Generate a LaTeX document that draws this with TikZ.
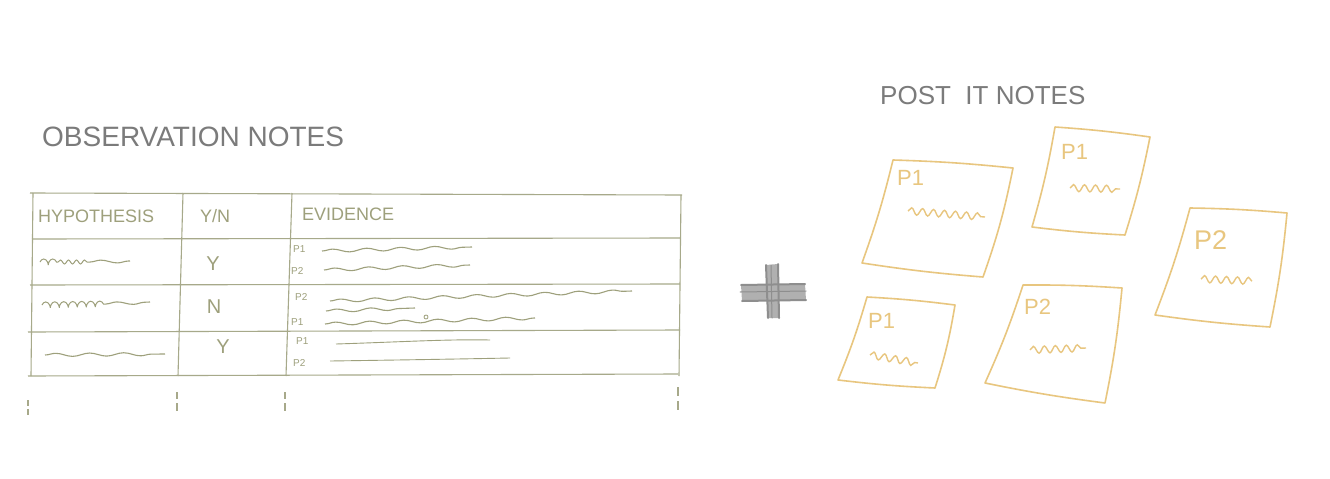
\documentclass[tikz,border=0pt]{standalone}
\usepackage{fontspec}
\setmainfont{Liberation Sans}
\usetikzlibrary{decorations.pathmorphing}
\definecolor{titlegray}{HTML}{7B7B7B}
\definecolor{tablegreen}{HTML}{A7A98A}
\definecolor{inkgreen}{HTML}{9EA07C}
\definecolor{postit}{HTML}{E8C67F}
\definecolor{plusgray}{HTML}{8E8E8E}
\tikzset{
 title/.style={text=titlegray, font=\fontsize{28}{30}\selectfont, anchor=west, inner sep=0},
 header/.style={text=inkgreen, font=\fontsize{18}{20}\selectfont, anchor=west, inner sep=0},
 cell/.style={text=inkgreen, font=\fontsize{20}{22}\selectfont, inner sep=0},
 small/.style={text=inkgreen, font=\fontsize{10}{12}\selectfont, anchor=west, inner sep=0},
 rule/.style={draw=tablegreen, line width=1.1pt},
 wavy/.style={draw=inkgreen, line width=1.1pt, decorate, decoration={snake, amplitude=1.6pt, segment length=34pt}},
 loopy/.style={draw=inkgreen, line width=1pt, decorate, decoration={coil, aspect=0.5, amplitude=3pt, segment length=9pt}},
 note/.style={draw=postit, line width=1.6pt, line join=round},
 notetext/.style={text=postit, font=\fontsize{22}{24}\selectfont, anchor=west, inner sep=0},
 scrib/.style={draw=postit, line width=1.4pt, decorate, decoration={snake, amplitude=3.5pt, segment length=11pt}},
 plusbar/.style={draw=plusgray, line width=2pt, line cap=round},
}
\begin{document}
\begin{tikzpicture}[x=1pt,y=-1pt]
\fill[white] (0,0) rectangle (1330,479);
\path[use as bounding box] (0,0) rectangle (1330,479);

% ---------- Observation notes ----------
\node[title] (obs) at (42,137) {OBSERVATION NOTES};

% table rules
\draw[rule] (30,193) -- (682,195);
\draw[rule] (32,239) -- (680,238);
\draw[rule] (30,285) -- (680,284);
\draw[rule] (28,332) -- (680,330);
\draw[rule] (28,376) -- (678,374);
\draw[rule] (33,193) -- (31,376);
\draw[rule] (183,193) -- (178,376);
\draw[rule] (292,193) -- (286,376);
\draw[rule] (681,195) -- (679,376);
% dashed continuations
\draw[rule] (28,400) -- (28,406) (28,409) -- (28,415);
\draw[rule] (177,392) -- (177,399) (177,403) -- (177,411);
\draw[rule] (285,392) -- (285,399) (285,403) -- (285,411);
\draw[rule] (678,387) -- (678,396) (678,401) -- (678,410);

% headers
\node[header] (hhyp) at (38,216) {HYPOTHESIS};
\node[header] (hyn) at (200,216) {Y/N};
\node[header] (hev) at (302,214) {EVIDENCE};

% row 1
\draw[loopy] (40,262) -- (58,262);
\draw[draw=inkgreen, line width=1pt, decorate, decoration={snake, amplitude=2pt, segment length=8pt}] (58,262) -- (90,262);
\draw[wavy] (90,262) -- (130,261);
\node[cell] (y1) at (213,264) {Y};
\node[small] (r1p1) at (293,249) {P1};
\draw[wavy] (322,251) -- (472,247);
\node[small] (r1p2) at (291,271) {P2};
\draw[wavy] (324,270) -- (470,265);

% row 2
\draw[loopy] (42,305) -- (106,304);
\draw[wavy] (106,304) -- (150,302);
\node[cell] (n2) at (214,307) {N};
\node[small] (r2p2) at (295,297) {P2};
\draw[wavy] (330,301) -- (632,291);
\draw[wavy] (326,311) -- (415,308);
\node[small] (r2p1) at (291,322) {P1};
\draw[wavy] (325,324) -- (535,318);
\draw[inkgreen, line width=0.8pt] (426,317) circle (2pt);

% row 3
\draw[wavy] (45,355) -- (165,354);
\node[cell] (y3) at (223,347) {Y};
\node[small] (r3p1) at (296,341) {P1};
\draw[draw=inkgreen, line width=0.9pt] (336,344) .. controls (400,342) and (450,339) .. (490,340);
\node[small] (r3p2) at (293,363) {P2};
\draw[draw=inkgreen, line width=0.9pt] (330,361) .. controls (400,360) and (460,359) .. (510,358);

% ---------- Plus ----------
\coordinate (pl) at (740,292);
\coordinate (pr) at (806,291);
\coordinate (pt) at (771,265);
\coordinate (pb) at (772,318);
\fill[plusgray!70] (741,285) -- (805,284) -- (806,300) -- (742,301) -- cycle;
\fill[plusgray!70] (766,265) -- (778,264) -- (779,318) -- (768,318) -- cycle;
\draw[plusbar] (741,285) -- (805,284) (742,301) -- (806,300);
\draw[plusbar] (766,265) -- (768,318) (778,264) -- (779,318);
\draw[plusbar, line width=1pt] (pl) -- (pr) (pt) -- (pb);

% ---------- Post-it notes ----------
\node[title, font=\fontsize{26}{28}\selectfont] (post) at (880,96) {POST\ \ IT NOTES};

% note 1 (large)
\draw[note] (893,160) to[bend left=2] (1013,168) to[bend left=4] (983,277) to[bend left=2] (862,263) to[bend right=3] cycle;
\node[notetext] (n1t) at (897,178) {P1};
\draw[scrib] (908,211) -- (985,217);

% note 2 (top middle)
\draw[note] (1055,127) to[bend left=2] (1150,137) to[bend left=3] (1125,235) to[bend left=2] (1032,227) to[bend right=3] cycle;
\node[notetext] (n2t) at (1061,152) {P1};
\draw[scrib] (1070,188) -- (1120,189);

% note 3 (right)
\draw[note] (1190,208) to[bend left=2] (1287,213) to[bend left=3] (1270,327) to[bend left=2] (1155,315) to[bend right=3] cycle;
\node[notetext, font=\fontsize{27}{29}\selectfont] (n3t) at (1194,240) {P2};
\draw[scrib] (1201,279) -- (1252,281);

% note 4 (bottom left)
\draw[note] (867,297) to[bend left=2] (955,305) to[bend left=4] (935,388) to[bend left=2] (838,380) to[bend right=3] cycle;
\node[notetext] (n4t) at (868,321) {P1};
\draw[scrib] (870,355) -- (918,363);

% note 5 (bottom middle)
\draw[note] (1023,285) to[bend left=2] (1122,288) to[bend left=3] (1105,403) to[bend left=2] (985,383) to[bend right=3] cycle;
\node[notetext] (n5t) at (1024,307) {P2};
\draw[scrib] (1030,350) -- (1086,348);
\end{tikzpicture}
\end{document}
